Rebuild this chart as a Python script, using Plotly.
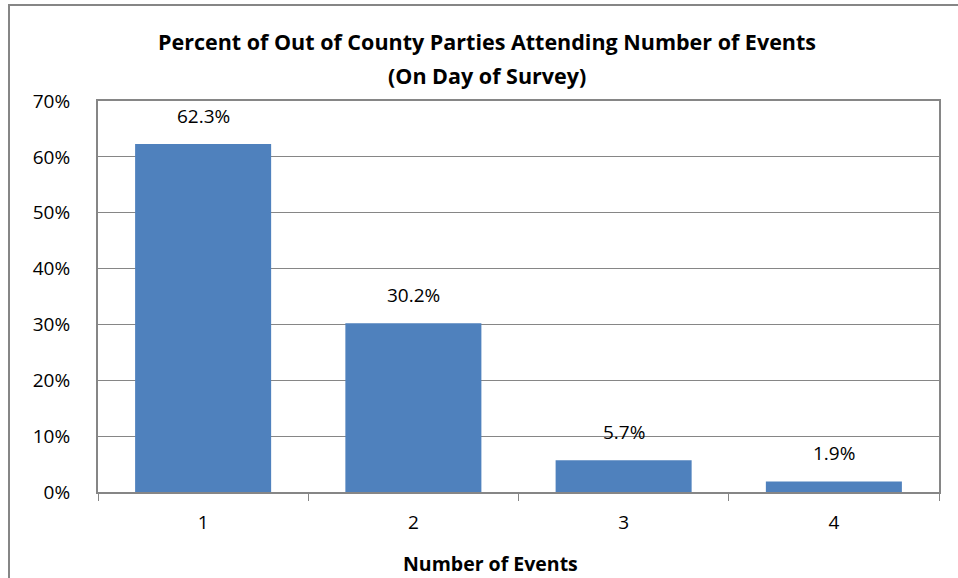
import plotly.graph_objects as go

categories = ["1", "2", "3", "4"]
values = [62.3, 30.2, 5.7, 1.9]
labels = ["62.3%", "30.2%", "5.7%", "1.9%"]
y_ticks = [0, 10, 20, 30, 40, 50, 60, 70]
y_tick_labels = ["0%", "10%", "20%", "30%", "40%", "50%", "60%", "70%"]

FONT = "Open Sans"
FS = 19
W, H = 958, 578
L, R, T, B = 98, 19, 101, 86
pw, ph = W - L - R, H - T - B

def px_x(x):
    return (x - L) / pw

def px_y(y):
    return (H - B - y) / ph

fig = go.Figure(go.Bar(
    x=categories, y=values,
    marker=dict(color="#4F81BD", line=dict(width=0)),
    hoverinfo="x+y",
))

# data labels (category axis positions by index)
for i, (v, t) in enumerate(zip(values, labels)):
    fig.add_annotation(
        x=i, y=v, text=t, showarrow=False, xanchor="center", yanchor="bottom",
        yshift=13, font=dict(family=FONT, size=FS, color="#000000"),
    )

fig.update_layout(
    width=W, height=H,
    margin=dict(l=L, r=R, t=T, b=B),
    paper_bgcolor="white", plot_bgcolor="white",
    bargap=0.353, showlegend=False,
    font=dict(family=FONT, color="#000000"),
)
fig.update_xaxes(
    type="category", showline=True, linecolor="#868686", linewidth=2, mirror=True,
    ticks="outside", tickson="boundaries", ticklen=7, tickcolor="#868686", tickwidth=1,
    ticklabelstandoff=12,
    tickfont=dict(family=FONT, size=FS, color="#000000"), showgrid=False,
)
fig.update_yaxes(
    range=[0, 70], tickvals=y_ticks, ticktext=y_tick_labels,
    showline=True, linecolor="#868686", linewidth=2, mirror=True,
    showgrid=True, gridcolor="#868686", gridwidth=1, zeroline=False,
    ticks="", ticklabelstandoff=22,
    tickfont=dict(family=FONT, size=FS, color="#000000"),
)

# chart title (two lines)
fig.add_annotation(
    text="<b>Percent of Out of County Parties Attending Number of Events</b>",
    xref="paper", yref="paper", x=px_x(487), y=px_y(42), xanchor="center", yanchor="middle",
    showarrow=False, font=dict(family=FONT, size=21.5, color="#000000"),
)
fig.add_annotation(
    text="<b>(On Day of Survey)</b>",
    xref="paper", yref="paper", x=px_x(487), y=px_y(76), xanchor="center", yanchor="middle",
    showarrow=False, font=dict(family=FONT, size=21.5, color="#000000"),
)
# axis title
fig.add_annotation(
    text="<b>Number of Events</b>",
    xref="paper", yref="paper", x=px_x(490), y=px_y(563), xanchor="center", yanchor="middle",
    showarrow=False, font=dict(family=FONT, size=19.5, color="#000000"),
)
# chart border
fig.add_shape(
    type="rect", xref="paper", yref="paper",
    x0=px_x(9), x1=px_x(990), y0=px_y(600), y1=px_y(5),
    line=dict(color="#868686", width=2), fillcolor="rgba(0,0,0,0)", layer="below",
)

fig.write_html("out.html")
